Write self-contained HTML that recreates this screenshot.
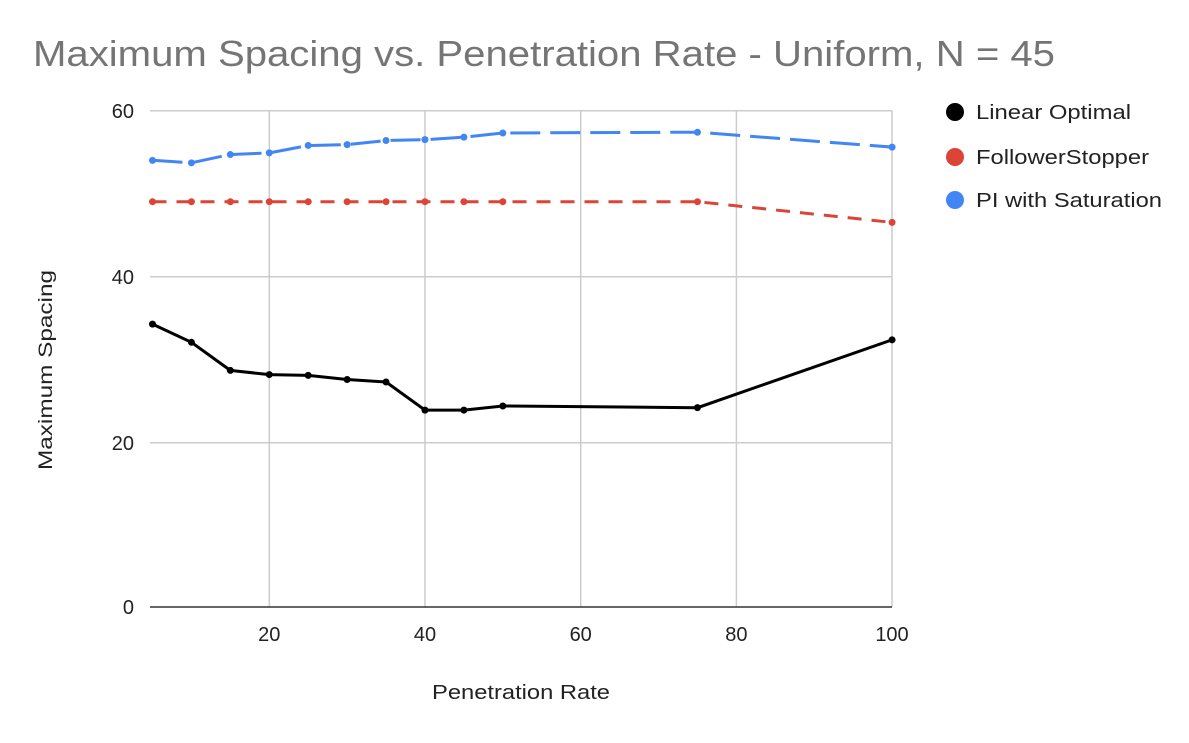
<!DOCTYPE html>
<html><head><meta charset="utf-8"><style>
body{margin:0;background:#fff;}
svg text{font-family:"Liberation Sans",Arial,sans-serif;}
</style></head><body>
<svg id="s" width="1189" height="738" xmlns="http://www.w3.org/2000/svg">
<text x="33" y="66" font-size="36" fill="#757575" textLength="1022" lengthAdjust="spacingAndGlyphs">Maximum Spacing vs. Penetration Rate - Uniform, N = 45</text>
<g stroke="#cccccc" stroke-width="1.5">
<line x1="150" y1="110.7" x2="892" y2="110.7"/>
<line x1="150" y1="276.7" x2="892" y2="276.7"/>
<line x1="150" y1="442.7" x2="892" y2="442.7"/>
<line x1="269.3" y1="110.7" x2="269.3" y2="607"/>
<line x1="425" y1="110.7" x2="425" y2="607"/>
<line x1="580.7" y1="110.7" x2="580.7" y2="607"/>
<line x1="736.4" y1="110.7" x2="736.4" y2="607"/>
<line x1="892" y1="110.7" x2="892" y2="607"/>
</g>
<line x1="150" y1="607" x2="892" y2="607" stroke="#333" stroke-width="1.5"/>
<g font-size="20" fill="#222" text-anchor="end">
<text x="134" y="118">60</text><text x="134" y="284">40</text><text x="134" y="450">20</text><text x="134" y="614">0</text>
</g>
<g font-size="20" fill="#222" text-anchor="middle">
<text x="269.3" y="641">20</text><text x="425" y="641">40</text><text x="580.7" y="641">60</text><text x="736.4" y="641">80</text><text x="892" y="641">100</text>
</g>
<text x="432" y="699" font-size="20" fill="#222" textLength="178" lengthAdjust="spacingAndGlyphs">Penetration Rate</text>
<text transform="translate(52,470) rotate(-90)" font-size="19" fill="#222" textLength="200" lengthAdjust="spacingAndGlyphs">Maximum Spacing</text>
<g id="series"></g>
<g font-size="20" fill="#222">
<circle cx="955" cy="112" r="9" fill="#000"/><text x="976" y="119" textLength="155" lengthAdjust="spacingAndGlyphs">Linear Optimal</text>
<circle cx="955" cy="157" r="9" fill="#db4437"/><text x="976" y="164" textLength="173" lengthAdjust="spacingAndGlyphs">FollowerStopper</text>
<circle cx="955" cy="200" r="9" fill="#4285f4"/><text x="976" y="207" textLength="186" lengthAdjust="spacingAndGlyphs">PI with Saturation</text>
</g>
</svg>
<script>
var X=[5,10,15,20,25,30,35,40,45,50,75,100];
function px(x){return 152.5+(x-5)*155.7/20;}
function py(y){return 607-y*8.2715;}
var S=[
 {c:"#000",d:"",w:3,v:[34.2,32,28.6,28.1,28,27.5,27.2,23.8,23.8,24.3,24.1,32.3]},
 {c:"#db4437",d:"14 10",w:3,v:[49,49,49,49,49,49,49,49,49,49,49,46.5]},
 {c:"#4285f4",d:"30 10",w:3,v:[54,53.7,54.7,54.9,55.8,55.9,56.4,56.5,56.8,57.3,57.4,55.6]}
];
var g=document.getElementById("series"),h="";
S.forEach(function(s){
 var p=X.map(function(x,i){return px(x).toFixed(1)+","+py(s.v[i]).toFixed(1);});
 h+='<polyline points="'+p.join(" ")+'" fill="none" stroke="'+s.c+'" stroke-width="'+s.w+'"'+(s.d?' stroke-dasharray="'+s.d+'"':'')+'/>';
 X.forEach(function(x,i){h+='<circle cx="'+px(x)+'" cy="'+py(s.v[i])+'" r="3.5" fill="'+s.c+'"/>';});
});
g.innerHTML=h;
</script>
</body></html>
